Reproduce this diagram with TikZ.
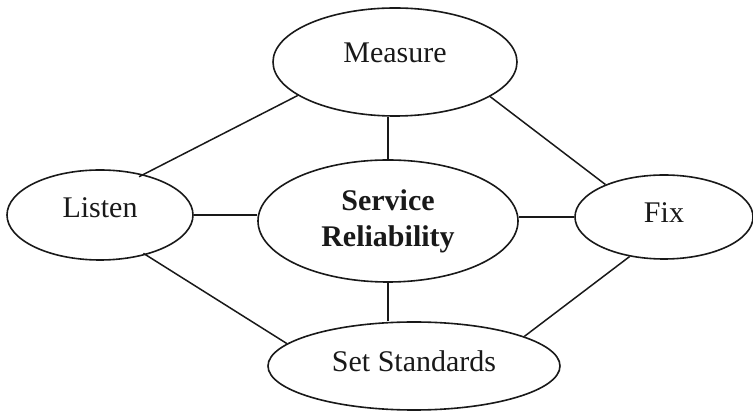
\documentclass[tikz,border=0pt]{standalone}
\usepackage{fontspec}
\setmainfont{Liberation Serif}
\usetikzlibrary{shapes.geometric}
\definecolor{ink}{gray}{0.1}
\tikzset{
  bubble/.style={ellipse, draw=ink, line width=1.6pt, inner sep=0pt,
    text=ink, font=\fontsize{30pt}{36pt}\selectfont},
  link/.style={draw=ink, line width=1.5pt},
}
\begin{document}
\begin{tikzpicture}[x=1pt,y=-1pt]
\useasboundingbox (0,0) rectangle (753,411);

% the five ovals
\node[bubble, minimum width=244pt, minimum height=108pt,
      text height=20pt, text depth=18pt] (measure) at (395,62) {Measure};
\node[bubble, minimum width=186pt, minimum height=90pt,
      text height=20pt, text depth=14pt] (listen) at (100,215) {Listen};
\node[bubble, minimum width=260pt, minimum height=122pt,
      align=center, font=\fontsize{30pt}{36pt}\selectfont\bfseries]
      (service) at (388,221) {Service\\Reliability};
\node[bubble, minimum width=178pt, minimum height=84pt,
      text height=20pt, text depth=9pt] (fix) at (664,217) {Fix};
\node[bubble, minimum width=292pt, minimum height=88pt,
      text height=20pt, text depth=9pt] (setstd) at (414,366) {Set Standards};

% connecting lines
\draw[link, shorten <=-5pt] (listen.43) -- (measure.199);
\draw[link] (measure.-20) -- (fix.151);
\draw[link] (service.north) -- (service.north |- measure.south);
\draw[link] (listen.east) -- (listen.east -| service.west);
\draw[link] (fix.west) -- (fix.west -| service.east);
\draw[link, shorten <=-3pt] (listen.-41) -- (setstd.170);
\draw[link] (service.south) -- (service.south |- setstd.north);
\draw[link] (setstd.15) -- (fix.229);
\end{tikzpicture}
\end{document}
